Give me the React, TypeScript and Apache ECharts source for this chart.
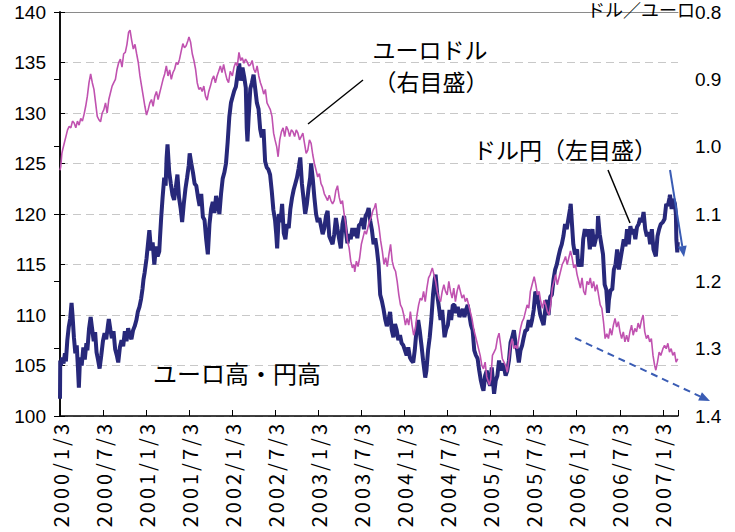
import React, { useEffect, useRef } from "react";
import * as echarts from "echarts";

type Row = [number, number, number]; // month, day, value

// ドル円 (円/ドル, left axis)
const yen2000: Row[] = [
  [1,3,101.7],[1,4,105.5],[1,7,105.0],[1,12,105.8],[1,18,105.2],[1,24,106.2],[1,28,105.4],
  [2,3,107.5],[2,9,108.8],[2,15,109.6],[2,21,111.2],[2,25,110.0],
  [3,2,107.8],[3,8,106.2],[3,14,107.0],[3,19,104.8],[3,23,102.8],[3,28,105.8],
  [4,4,105.0],[4,11,106.8],[4,17,105.6],[4,24,107.2],[4,28,106.5],
  [5,5,108.6],[5,12,109.8],[5,18,108.7],[5,25,107.4],[5,31,108.3],
  [6,6,106.3],[6,12,105.6],[6,19,104.7],[6,26,106.0],
  [7,3,107.4],[7,10,108.2],[7,17,107.6],[7,24,108.9],[7,28,109.6],
  [8,4,108.5],[8,10,107.7],[8,17,108.4],[8,24,106.6],[8,31,106.0],
  [9,6,105.3],[9,13,106.8],[9,20,107.5],[9,27,106.9],
  [10,4,108.4],[10,11,107.4],[10,18,108.7],[10,25,108.0],
  [11,1,107.6],[11,8,108.5],[11,15,108.9],[11,22,109.5],[11,28,110.3],
  [12,5,110.8],[12,12,111.6],[12,18,112.6],[12,22,113.5],[12,27,114.2],
];
const yen2001: Row[] = [
  [1,4,115.6],[1,10,117.0],[1,16,118.4],[1,23,116.4],[1,30,117.2],
  [2,6,115.0],[2,13,116.8],[2,20,115.8],[2,27,116.3],
  [3,2,117.6],[3,7,119.6],[3,13,121.6],[3,20,123.6],[3,26,122.8],[3,30,125.5],
  [4,3,126.9],[4,10,124.2],[4,17,123.0],[4,24,121.9],
  [5,1,121.4],[5,8,122.6],[5,15,123.9],[5,22,121.6],[5,29,120.5],
  [6,4,119.2],[6,11,121.0],[6,18,122.5],[6,25,123.6],
  [7,2,124.8],[7,6,126.0],[7,13,125.0],[7,20,124.1],[7,27,123.0],
  [8,3,122.8],[8,10,121.7],[8,17,120.8],[8,24,122.0],[8,31,119.7],
  [9,7,119.4],[9,14,117.5],[9,21,116.0],[9,28,119.0],
  [10,5,120.5],[10,12,121.2],[10,19,120.1],[10,26,121.8],
  [11,2,121.0],[11,9,120.0],[11,16,122.0],[11,23,123.5],[11,30,124.1],
  [12,7,125.0],[12,14,127.1],[12,21,129.6],[12,28,131.0],
];
const yen2002: Row[] = [
  [1,4,131.6],[1,11,132.2],[1,18,132.6],[1,25,133.8],
  [2,1,134.9],[2,8,133.2],[2,15,134.5],[2,22,133.6],
  [3,1,132.5],[3,5,128.5],[3,8,127.2],[3,13,129.6],[3,20,132.4],[3,27,133.0],
  [4,3,133.8],[4,10,132.4],[4,17,131.0],[4,24,130.4],
  [5,1,128.4],[5,8,127.6],[5,15,128.4],[5,22,125.2],[5,29,124.6],
  [6,5,124.4],[6,12,123.9],[6,19,122.3],[6,26,120.4],
  [7,3,119.4],[7,8,118.0],[7,12,116.6],[7,19,120.0],[7,26,119.2],
  [8,2,121.0],[8,9,118.1],[8,16,117.5],[8,23,119.0],[8,30,118.6],
  [9,6,120.5],[9,13,121.6],[9,20,122.4],[9,27,123.0],
  [10,4,123.6],[10,11,124.5],[10,18,125.6],[10,25,123.0],
  [11,1,121.5],[11,8,120.0],[11,15,121.0],[11,22,122.5],[11,29,123.6],
  [12,3,125.0],[12,10,123.5],[12,17,121.6],[12,24,120.0],[12,31,119.2],
];
const yen2003: Row[] = [
  [1,7,119.6],[1,14,118.8],[1,21,118.0],[1,28,118.6],
  [2,4,119.8],[2,11,120.3],[2,18,117.8],[2,25,117.4],
  [3,4,117.0],[3,11,118.0],[3,18,119.6],[3,25,118.5],
  [4,1,117.5],[4,8,116.6],[4,15,119.0],[4,22,119.8],[4,29,118.4],
  [5,6,117.1],[5,13,118.0],[5,20,117.5],[5,27,118.6],
  [6,3,117.8],[6,10,118.6],[6,17,117.6],[6,24,118.9],
  [7,1,119.0],[7,8,119.6],[7,15,118.5],[7,22,119.8],[7,29,120.1],
  [8,4,120.6],[8,11,119.3],[8,18,118.4],[8,25,117.0],
  [9,1,117.6],[9,8,116.5],[9,15,115.0],[9,22,112.0],[9,29,111.4],
  [10,6,110.6],[10,13,109.6],[10,20,108.9],[10,27,109.5],
  [11,3,110.3],[11,10,108.5],[11,17,107.8],[11,24,109.1],
  [12,1,108.5],[12,8,107.5],[12,15,108.0],[12,22,107.2],[12,29,107.0],
];
const yen2004: Row[] = [
  [1,5,106.5],[1,12,106.0],[1,19,106.8],[1,26,105.8],
  [2,2,105.5],[2,9,105.3],[2,16,106.6],[2,23,108.5],
  [3,1,109.5],[3,8,108.4],[3,15,107.0],[3,22,105.5],[3,31,103.8],
  [4,5,104.5],[4,12,106.5],[4,19,107.8],[4,26,109.6],
  [5,3,112.0],[5,10,113.5],[5,14,114.0],[5,21,112.0],[5,28,110.8],
  [6,4,109.5],[6,11,110.5],[6,18,108.6],[6,21,107.8],[6,28,108.6],
  [7,5,109.0],[7,12,110.5],[7,19,109.5],[7,26,111.0],
  [8,2,111.0],[8,9,110.2],[8,16,110.8],[8,23,109.8],[8,30,110.2],
  [9,6,110.6],[9,13,109.8],[9,20,110.5],[9,27,111.0],
  [10,4,110.0],[10,11,109.0],[10,18,108.5],[10,25,106.5],
  [11,1,106.0],[11,8,105.7],[11,15,104.5],[11,22,103.5],[11,29,102.8],
  [12,3,102.5],[12,10,104.0],[12,17,104.5],[12,24,103.5],[12,31,103.0],
];
const yen2005: Row[] = [
  [1,7,104.8],[1,17,102.2],[1,24,103.5],[1,31,104.0],
  [2,7,105.5],[2,14,104.5],[2,21,105.2],[2,28,104.8],
  [3,7,104.0],[3,14,104.5],[3,21,105.5],[3,28,107.3],
  [4,4,107.8],[4,11,108.5],[4,18,107.2],[4,25,106.5],
  [5,2,105.3],[5,9,106.5],[5,16,107.0],[5,23,107.8],[5,30,108.5],
  [6,6,108.5],[6,13,109.5],[6,20,108.8],[6,27,109.5],
  [7,4,110.5],[7,11,112.3],[7,18,112.0],[7,25,111.0],
  [8,1,110.0],[8,8,109.5],[8,15,109.0],[8,22,110.5],[8,29,111.5],
  [9,5,110.0],[9,12,111.8],[9,19,112.0],[9,26,113.5],
  [10,3,114.5],[10,10,115.0],[10,17,115.8],[10,24,116.5],[10,31,117.0],
  [11,7,117.8],[11,14,119.0],[11,21,118.5],[11,28,119.5],
  [12,5,120.5],[12,8,121.0],[12,12,119.5],[12,19,117.0],[12,26,116.0],
];
const yen2006: Row[] = [
  [1,4,116.5],[1,9,114.8],[1,16,115.5],[1,23,114.8],[1,30,117.5],
  [2,6,118.5],[2,13,117.8],[2,20,118.5],[2,27,116.5],
  [3,3,117.5],[3,10,118.5],[3,17,116.8],[3,24,117.5],[3,31,118.0],
  [4,3,119.8],[4,10,118.0],[4,17,117.0],[4,24,116.0],
  [5,1,113.0],[5,8,112.5],[5,15,110.2],[5,19,111.5],[5,26,112.5],
  [6,2,112.5],[6,9,114.5],[6,16,115.0],[6,23,116.5],[6,30,114.5],
  [7,7,115.5],[7,14,116.5],[7,21,117.5],[7,28,116.8],
  [8,4,118.5],[8,11,117.0],[8,18,118.8],[8,25,118.0],
  [9,1,118.5],[9,8,117.5],[9,15,118.7],[9,22,119.0],[9,29,119.6],
  [10,6,119.2],[10,13,120.2],[10,20,118.5],[10,27,117.8],
  [11,3,118.2],[11,10,117.0],[11,17,118.5],[11,24,116.5],
  [12,4,115.8],[12,11,117.8],[12,18,118.5],[12,25,119.0],
];
const yen2007: Row[] = [
  [1,3,119.2],[1,10,119.5],[1,17,121.0],[1,24,120.8],[1,31,121.6],
  [2,2,121.9],[2,9,120.5],[2,16,121.5],[2,23,121.0],[2,27,120.0],
  [3,1,117.5],[3,5,116.2],[3,7,117.2],
];

// ユーロドル (ドル/ユーロ, right axis, inverted)
const eur2000: Row[] = [
  [1,3,1.035],[1,6,1.03],[1,11,1.01],[1,14,1.005],[1,21,0.995],[1,28,0.985],
  [2,4,0.975],[2,11,0.97],[2,18,0.972],[2,25,0.962],
  [3,3,0.965],[3,10,0.972],[3,17,0.962],[3,24,0.968],[3,31,0.958],
  [4,7,0.962],[4,14,0.952],[4,21,0.94],[4,28,0.925],
  [5,5,0.905],[5,12,0.892],[5,19,0.905],[5,26,0.915],
  [6,2,0.935],[6,9,0.955],[6,16,0.96],[6,23,0.963],[6,30,0.95],
  [7,7,0.945],[7,14,0.935],[7,21,0.95],[7,28,0.93],
  [8,4,0.92],[8,11,0.91],[8,18,0.905],[8,25,0.9],
  [9,1,0.885],[9,8,0.875],[9,15,0.87],[9,22,0.882],[9,29,0.862],
  [10,6,0.86],[10,13,0.848],[10,20,0.83],[10,26,0.827],
  [11,2,0.842],[11,9,0.855],[11,16,0.848],[11,23,0.862],[11,30,0.875],
  [12,7,0.895],[12,14,0.91],[12,21,0.925],[12,28,0.94],
];
const eur2001: Row[] = [
  [1,4,0.953],[1,11,0.945],[1,18,0.935],[1,25,0.93],
  [2,1,0.94],[2,8,0.925],[2,15,0.918],[2,22,0.93],
  [3,1,0.92],[3,8,0.91],[3,15,0.9],[3,22,0.892],[3,29,0.88],
  [4,5,0.895],[4,12,0.886],[4,19,0.9],[4,26,0.89],
  [5,3,0.885],[5,10,0.875],[5,17,0.878],[5,24,0.87],[5,31,0.858],
  [6,7,0.847],[6,14,0.853],[6,21,0.85],[6,28,0.843],
  [7,3,0.837],[7,10,0.845],[7,17,0.862],[7,24,0.872],[7,31,0.885],
  [8,7,0.905],[8,14,0.915],[8,21,0.912],[8,28,0.918],
  [9,4,0.91],[9,11,0.925],[9,18,0.931],[9,25,0.918],
  [10,2,0.91],[10,9,0.9],[10,16,0.895],[10,23,0.905],[10,30,0.895],
  [11,6,0.888],[11,13,0.88],[11,20,0.89],[11,27,0.878],
  [12,4,0.89],[12,11,0.9],[12,18,0.905],[12,25,0.888],
];
const eur2002: Row[] = [
  [1,3,0.895],[1,10,0.882],[1,17,0.875],[1,24,0.88],[1,31,0.86],
  [2,7,0.872],[2,14,0.868],[2,21,0.876],[2,28,0.87],
  [3,7,0.874],[3,14,0.88],[3,21,0.878],[3,28,0.872],
  [4,4,0.885],[4,11,0.89],[4,18,0.88],[4,25,0.895],
  [5,2,0.905],[5,9,0.912],[5,16,0.922],[5,23,0.915],[5,30,0.935],
  [6,6,0.94],[6,13,0.945],[6,20,0.955],[6,27,0.98],
  [7,3,0.99],[7,10,1.0],[7,16,1.015],[7,23,0.99],[7,30,0.978],
  [8,6,0.972],[8,13,0.985],[8,20,0.97],[8,27,0.975],
  [9,3,0.985],[9,10,0.975],[9,17,0.978],[9,24,0.985],
  [10,1,0.975],[10,8,0.98],[10,15,0.99],[10,22,0.985],[10,29,0.98],
  [11,5,0.995],[11,12,1.01],[11,19,1.005],[11,26,0.99],
  [12,3,0.995],[12,10,1.012],[12,17,1.025],[12,24,1.035],[12,31,1.045],
];
const eur2003: Row[] = [
  [1,7,1.04],[1,14,1.055],[1,21,1.06],[1,28,1.07],
  [2,4,1.075],[2,11,1.08],[2,18,1.072],[2,25,1.08],
  [3,4,1.085],[3,11,1.08],[3,18,1.065],[3,25,1.058],
  [4,1,1.075],[4,8,1.085],[4,15,1.08],[4,22,1.1],[4,29,1.115],
  [5,6,1.14],[5,13,1.15],[5,20,1.17],[5,27,1.18],
  [6,3,1.175],[6,6,1.186],[6,13,1.17],[6,20,1.178],[6,27,1.165],
  [7,4,1.145],[7,11,1.135],[7,18,1.125],[7,25,1.13],
  [8,1,1.12],[8,8,1.11],[8,15,1.105],[8,22,1.095],[8,29,1.09],
  [9,3,1.084],[9,10,1.105],[9,17,1.12],[9,24,1.14],
  [10,1,1.155],[10,8,1.175],[10,15,1.165],[10,22,1.178],[10,29,1.16],
  [11,5,1.145],[11,12,1.17],[11,19,1.18],[11,26,1.185],
  [12,3,1.2],[12,10,1.22],[12,17,1.235],[12,24,1.24],[12,31,1.25],
];
const eur2004: Row[] = [
  [1,7,1.265],[1,14,1.255],[1,21,1.265],[1,28,1.245],
  [2,4,1.265],[2,11,1.28],[2,18,1.27],[2,25,1.25],
  [3,3,1.235],[3,10,1.225],[3,17,1.228],[3,24,1.215],[3,31,1.23],
  [4,7,1.21],[4,14,1.195],[4,21,1.19],[4,30,1.18],
  [5,7,1.19],[5,14,1.2],[5,21,1.215],[5,28,1.225],
  [6,4,1.23],[6,11,1.215],[6,18,1.205],[6,25,1.215],
  [7,2,1.22],[7,9,1.2],[7,16,1.215],[7,23,1.225],[7,30,1.21],
  [8,6,1.23],[8,13,1.215],[8,20,1.205],[8,27,1.215],
  [9,3,1.225],[9,10,1.22],[9,17,1.23],[9,24,1.225],
  [10,1,1.235],[10,8,1.245],[10,15,1.255],[10,22,1.27],[10,29,1.28],
  [11,5,1.29],[11,12,1.3],[11,19,1.31],[11,26,1.325],
  [12,3,1.33],[12,10,1.32],[12,17,1.342],[12,28,1.354],
];
const eur2005: Row[] = [
  [1,3,1.345],[1,10,1.31],[1,17,1.305],[1,24,1.3],[1,31,1.285],
  [2,7,1.277],[2,14,1.295],[2,21,1.315],[2,28,1.32],
  [3,7,1.325],[3,14,1.335],[3,21,1.315],[3,28,1.295],
  [4,4,1.285],[4,11,1.3],[4,18,1.295],[4,25,1.3],
  [5,2,1.285],[5,9,1.27],[5,16,1.26],[5,23,1.255],[5,30,1.245],
  [6,6,1.235],[6,13,1.24],[6,20,1.215],[6,27,1.205],
  [7,6,1.193],[7,13,1.205],[7,20,1.22],[7,27,1.215],
  [8,3,1.23],[8,10,1.24],[8,17,1.228],[8,24,1.235],[8,31,1.245],
  [9,7,1.25],[9,14,1.235],[9,21,1.21],[9,28,1.2],
  [10,5,1.19],[10,12,1.205],[10,19,1.195],[10,26,1.185],
  [11,2,1.175],[11,9,1.17],[11,16,1.163],[11,23,1.175],[11,30,1.165],
  [12,7,1.155],[12,14,1.165],[12,21,1.18],[12,28,1.175],
];
const eur2006: Row[] = [
  [1,4,1.19],[1,11,1.2],[1,18,1.21],[1,25,1.195],
  [2,1,1.215],[2,8,1.22],[2,15,1.2],[2,22,1.205],
  [3,1,1.195],[3,8,1.21],[3,15,1.2],[3,22,1.215],[3,29,1.205],
  [4,5,1.22],[4,12,1.235],[4,19,1.24],[4,26,1.26],
  [5,3,1.285],[5,10,1.278],[5,17,1.285],[5,24,1.27],[5,31,1.28],
  [6,7,1.265],[6,14,1.255],[6,21,1.268],[6,28,1.26],
  [7,5,1.275],[7,12,1.285],[7,19,1.275],[7,26,1.29],
  [8,2,1.28],[8,9,1.29],[8,16,1.275],[8,23,1.265],[8,30,1.28],
  [9,6,1.27],[9,13,1.275],[9,20,1.262],[9,27,1.27],
  [10,4,1.258],[10,11,1.25],[10,18,1.275],[10,25,1.285],
  [11,1,1.28],[11,8,1.29],[11,15,1.285],[11,22,1.31],[11,29,1.325],
  [12,4,1.332],[12,11,1.32],[12,18,1.305],[12,25,1.31],
];
const eur2007: Row[] = [
  [1,3,1.3],[1,10,1.295],[1,17,1.3],[1,24,1.292],[1,31,1.305],
  [2,7,1.3],[2,14,1.31],[2,21,1.305],[2,28,1.32],[3,7,1.315],
];

const xTickLabels = [
  "2000/1/3","2000/7/3","2001/1/3","2001/7/3","2002/1/3","2002/7/3","2003/1/3","2003/7/3",
  "2004/1/3","2004/7/3","2005/1/3","2005/7/3","2006/1/3","2006/7/3","2007/1/3",
];
const leftTicks = { min: 100, max: 140, interval: 5 };
const rightTicks = { min: 0.8, max: 1.4, interval: 0.1 };

const DAY = 86400000;
const ORIGIN = Date.UTC(2000, 0, 3);
const dayIndex = (y: number, m: number, d: number) => Math.round((Date.UTC(y, m - 1, d) - ORIGIN) / DAY);
const X_MAX = dayIndex(2007, 3, 8);
const HALF_YEAR = 182.625;

function build(groups: [number, Row[]][]) {
  const out: [number, number][] = [];
  groups.forEach(([y, rows]) => rows.forEach(([m, d, v]) => out.push([dayIndex(y, m, d), v])));
  return out;
}

const yenData = build([[2000, yen2000],[2001, yen2001],[2002, yen2002],[2003, yen2003],[2004, yen2004],[2005, yen2005],[2006, yen2006],[2007, yen2007]]);
const eurData = build([[2000, eur2000],[2001, eur2001],[2002, eur2002],[2003, eur2003],[2004, eur2004],[2005, eur2005],[2006, eur2006],[2007, eur2007]]);

const JP = '"Noto Sans CJK JP", "Noto Sans CJK SC", sans-serif';
const NUM = '"Liberation Sans", Arial, sans-serif';

function arrow(x1: number, y1: number, x2: number, y2: number, color: string, dashed: boolean) {
  const dx = x2 - x1, dy = y2 - y1;
  const len = Math.sqrt(dx * dx + dy * dy);
  const ux = dx / len, uy = dy / len;
  const hl = 11, hw = 4.5;
  const bx = x2 - ux * hl, by = y2 - uy * hl;
  return [
    { type: "line", shape: { x1, y1, x2: bx, y2: by }, style: { stroke: color, lineWidth: 2, lineDash: dashed ? [7, 5] : null } },
    { type: "polygon", shape: { points: [[x2, y2], [bx - uy * hw, by + ux * hw], [bx + uy * hw, by - ux * hw]] }, style: { fill: color } },
  ];
}

export default function App() {
  const ref = useRef<HTMLDivElement>(null);
  useEffect(() => {
    document.body.style.margin = "0";
    if (!ref.current) return;
    const chart = echarts.init(ref.current, null, { renderer: "svg" });
    const blue = "#3a5cb4";
    chart.setOption({
      animation: false,
      backgroundColor: "#ffffff",
      grid: { left: 60, right: 57, top: 12, bottom: 116 },
      xAxis: [
        {
          type: "value",
          min: 0,
          max: X_MAX,
          interval: HALF_YEAR,
          axisLine: { show: true, lineStyle: { color: "#000", width: 1.5 } },
          axisTick: { show: true, inside: true, length: 6, lineStyle: { color: "#000" } },
          splitLine: { show: false },
          axisLabel: {
            rotate: 90,
            margin: 5,
            color: "#000",
            fontFamily: JP,
            fontSize: 20,
            formatter: (v: number) => {
              const k = Math.round(v / HALF_YEAR);
              if (Math.abs(v - k * HALF_YEAR) > 1 || k >= xTickLabels.length) return "";
              return xTickLabels[k];
            },
          },
        },
        {
          type: "value",
          position: "top",
          min: 0,
          max: X_MAX,
          axisLine: { show: true, lineStyle: { color: "#8a8a8a", width: 1 } },
          axisTick: { show: false },
          axisLabel: { show: false },
          splitLine: { show: false },
        },
      ],
      yAxis: [
        {
          type: "value",
          ...leftTicks,
          axisLine: { show: true, lineStyle: { color: "#000", width: 1.5 } },
          axisTick: { show: true, inside: true, length: 5, lineStyle: { color: "#000" } },
          splitLine: { show: true, lineStyle: { color: "#c8c8c8", type: [8, 5], width: 1 } },
          axisLabel: { color: "#000", fontFamily: NUM, fontSize: 19, margin: 14 },
        },
        {
          type: "value",
          position: "right",
          inverse: true,
          ...rightTicks,
          axisLine: { show: true, lineStyle: { color: "#000", width: 1.5 } },
          axisTick: { show: true, inside: true, length: 6, lineStyle: { color: "#000" } },
          splitLine: { show: false },
          axisLabel: { color: "#000", fontFamily: NUM, fontSize: 19, margin: 17, formatter: (v: number) => v.toFixed(1) },
        },
      ],
      series: [
        {
          name: "ドル円",
          type: "line",
          xAxisIndex: 0,
          yAxisIndex: 0,
          data: yenData,
          showSymbol: false,
          lineStyle: { color: "#27287a", width: 4 },
          itemStyle: { color: "#27287a" },
          z: 2,
        },
        {
          name: "ユーロドル",
          type: "line",
          xAxisIndex: 0,
          yAxisIndex: 1,
          data: eurData,
          showSymbol: false,
          lineStyle: { color: "#c052b0", width: 1.6 },
          itemStyle: { color: "#c052b0" },
          z: 3,
        },
      ],
      graphic: [
        { type: "text", x: 695, y: 18, style: { text: "ドル／ユーロ", fontFamily: JP, fontSize: 18, fill: "#000", textAlign: "right", textVerticalAlign: "bottom" }, z: 10 },
        { type: "text", x: 430, y: 49, style: { text: "ユーロドル", fontFamily: JP, fontSize: 23, fill: "#000", textAlign: "center", textVerticalAlign: "middle" }, z: 10 },
        { type: "text", x: 431, y: 81, style: { text: "（右目盛）", fontFamily: JP, fontSize: 23, fill: "#000", textAlign: "center", textVerticalAlign: "middle" }, z: 10 },
        { type: "text", x: 565, y: 149, style: { text: "ドル円（左目盛）", fontFamily: JP, fontSize: 23, fill: "#000", textAlign: "center", textVerticalAlign: "middle" }, z: 10 },
        { type: "text", x: 237, y: 372, style: { text: "ユーロ高・円高", fontFamily: JP, fontSize: 24, fill: "#000", textAlign: "center", textVerticalAlign: "middle" }, z: 10 },
        { type: "line", shape: { x1: 363, y1: 80, x2: 308, y2: 124 }, style: { stroke: "#000", lineWidth: 1.5 }, z: 10 },
        { type: "line", shape: { x1: 608, y1: 170, x2: 630, y2: 223 }, style: { stroke: "#000", lineWidth: 1.5 }, z: 10 },
        ...arrow(670, 170, 684, 257, blue, false).map((e) => ({ ...e, z: 10 })),
        ...arrow(575, 338, 710, 401, blue, true).map((e) => ({ ...e, z: 10 })),
      ],
    });
    // widen the spacing of the rotated date labels, as in the reference
    ref.current.querySelectorAll("text").forEach((t) => {
      if (/^\d{4}\/\d+\/\d+$/.test(t.textContent || "")) (t as SVGTextElement).style.letterSpacing = "3px";
    });
    return () => chart.dispose();
  }, []);
  return <div ref={ref} style={{ width: 735, height: 532 }} />;
}
